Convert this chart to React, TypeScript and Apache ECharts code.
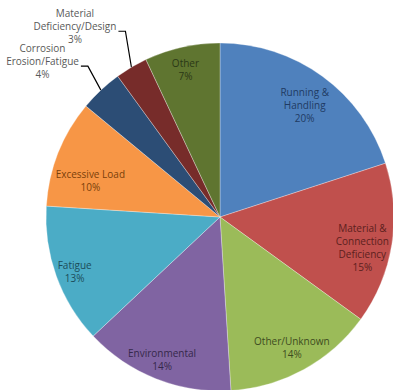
import React, { useEffect, useRef } from "react";
import * as echarts from "echarts";

const categories = [
  "Running &\nHandling",
  "Material &\nConnection\nDeficiency",
  "Other/Unknown",
  "Environmental",
  "Fatigue",
  "Excessive Load",
  "Corrosion\nErosion/Fatigue",
  "Material\nDeficiency/Design",
  "Other",
];
const values = [20, 15, 14, 14, 13, 10, 4, 3, 7];
const sliceColors = [
  "#4F81BD",
  "#C0504D",
  "#9BBB59",
  "#8064A2",
  "#4BACC6",
  "#F79646",
  "#2C4D75",
  "#772C2A",
  "#5F7530",
];
const labelColors = [
  "#1F3B63",
  "#5C1F1D",
  "#3E4B1F",
  "#35284A",
  "#1C4D5A",
  "#7A3F0A",
  "#595959",
  "#595959",
  "#2B3816",
];
const outsideIdx = [6, 7];

export default function App() {
  const ref = useRef<HTMLDivElement>(null);
  useEffect(() => {
    if (!ref.current) return;
    const chart = echarts.init(ref.current, undefined, { renderer: "svg" });
    const R = 174;
    const font = "Open Sans";
    // layout tweaks: inside label nudges [dx, dy]
    const nudges: number[][] = [
      [-3, 9],
      [-5, 7],
      [0, 0],
      [-3, 4],
      [-5, 4],
      [9, 18],
      [0, 0],
      [0, 0],
      [-2, -2],
    ];
    // leader lines for outside labels: [bendDx, bendDy, horizontal length]
    const leaders: Record<number, number[]> = {
      6: [-13, -24, -7],
      7: [-6, -36, -7],
    };
    const mainData = categories.map((c, i) => ({
      name: c,
      value: values[i],
      itemStyle: { color: sliceColors[i] },
    }));
    const labelData = categories.map((c, i) => {
      const outside = outsideIdx.includes(i);
      return {
        name: c,
        value: values[i],
        itemStyle: { color: "rgba(0,0,0,0)" },
        label: outside
          ? {
              position: "outside",
              color: labelColors[i],
              formatter: (p: any) =>
                (p.name + "\n" + p.value + "%")
                  .split("\n")
                  .map((l: string) => "{c|" + l + "}")
                  .join("\n"),
              rich: {
                c: {
                  align: "center",
                  color: labelColors[i],
                  fontFamily: font,
                  fontSize: 10,
                  lineHeight: 13,
                },
              },
            }
          : {
              position: "inside",
              color: labelColors[i],
            },
        labelLine: outside
          ? {
              show: true,
              length: 20,
              length2: 5,
              lineStyle: { color: "#000000", width: 1.2 },
            }
          : { show: false },
      };
    });
    chart.setOption({
      animation: false,
      backgroundColor: "#ffffff",
      series: [
        {
          type: "pie",
          center: [220, 217],
          radius: [0, R],
          startAngle: 90,
          clockwise: true,
          silent: true,
          label: { show: false },
          labelLine: { show: false },
          itemStyle: { borderColor: "rgba(255,255,255,0.5)", borderWidth: 0.6 },
          data: mainData,
        },
        {
          type: "pie",
          center: [220, 217],
          radius: [R * 0.68, R],
          startAngle: 90,
          clockwise: true,
          silent: true,
          avoidLabelOverlap: false,
          label: {
            show: true,
            fontFamily: font,
            fontSize: 10,
            lineHeight: 13,
            formatter: "{b}\n{c}%",
          },
          labelLayout: (p: any) => {
            const i = p.dataIndex;
            if (outsideIdx.includes(i)) {
              const pts = p.labelLinePoints;
              if (!pts) return { hideOverlap: false };
              const e = pts[0];
              const L = leaders[i];
              const bend = [e[0] + L[0], e[1] + L[1]];
              const end = [bend[0] + L[2], bend[1]];
              const w = p.labelRect.width;
              return {
                hideOverlap: false,
                x: end[0] - 2 - w / 2,
                y: end[1] - 5,
                align: "center",
                verticalAlign: "middle",
                labelLinePoints: [e, bend, end],
              };
            }
            return { hideOverlap: false, dx: nudges[i][0], dy: nudges[i][1] };
          },
          emphasis: { disabled: true },
          data: labelData,
        },
      ],
    });
    return () => chart.dispose();
  }, []);
  return (
    <div
      ref={ref}
      style={{ position: "fixed", left: 0, top: 0, width: 393, height: 390 }}
    />
  );
}
